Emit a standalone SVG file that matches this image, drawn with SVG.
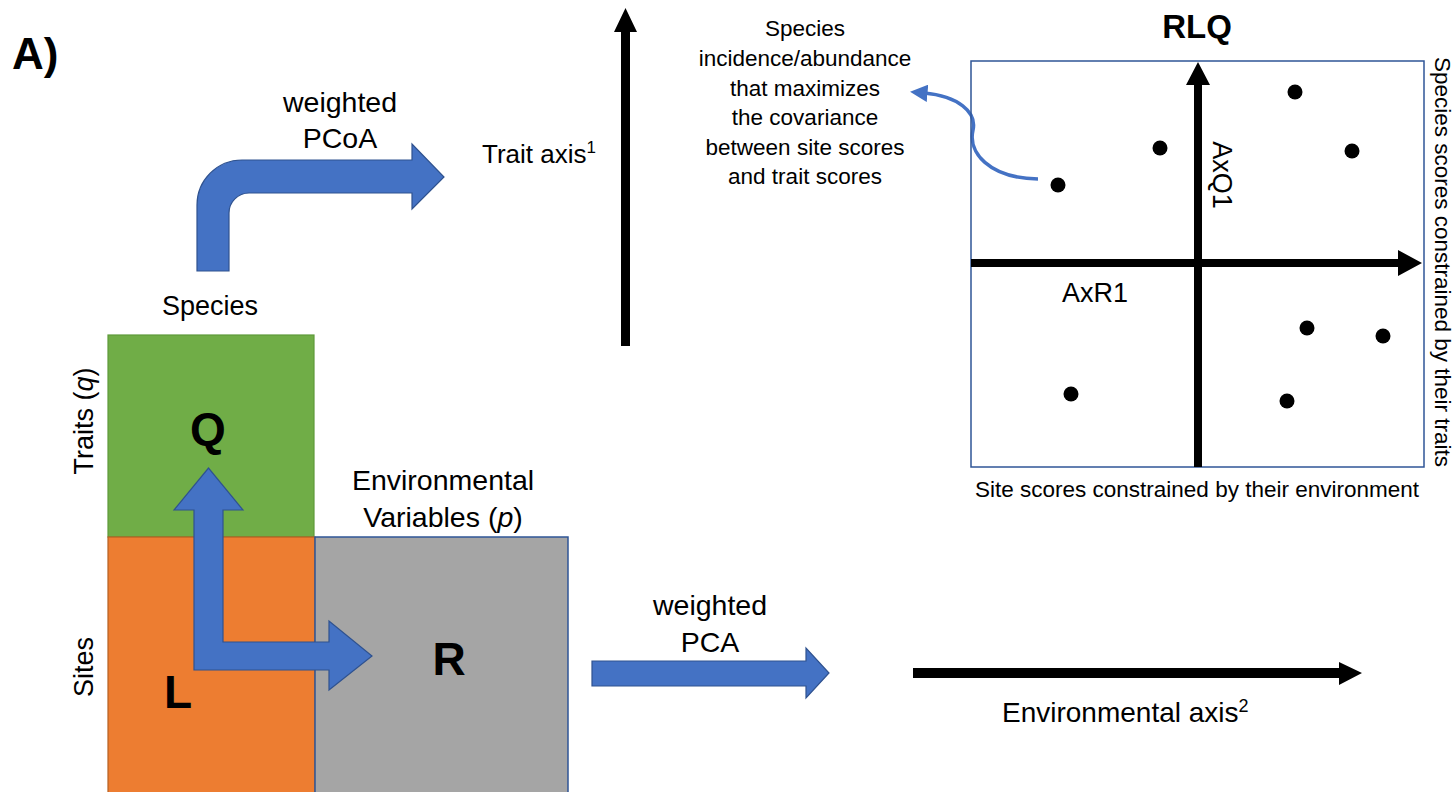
<svg xmlns="http://www.w3.org/2000/svg" width="1453" height="792" viewBox="0 0 1453 792">
  <defs>
    <marker id="curveHead" viewBox="0 0 10 10" refX="2" refY="5" markerWidth="5" markerHeight="5" orient="auto-start-reverse" markerUnits="strokeWidth">
      <path d="M0,0 L10,5 L0,10 Z" fill="#4472C4"/>
    </marker>
  </defs>
  <style>
    text { font-family: "Liberation Sans", Arial, sans-serif; fill: #000; }
    .lbl { font-size: 27px; }
    .wt { font-size: 28.5px; }
    .small { font-size: 22.5px; }
    .big { font-size: 46px; font-weight: bold; }
    .blue { fill: #4472C4; stroke: #2F528F; stroke-width: 1.2; }
    .axis { fill: #000; stroke: none; }
    .dot { fill: #000; }
  </style>

  <rect width="1453" height="792" fill="#fff"/>

  <!-- Panel letter -->
  <text x="12" y="69" style="font-size:44px;font-weight:bold">A)</text>

  <!-- Matrices -->
  <g id="matrix-Q">
    <rect x="108" y="335" width="206" height="202" fill="#70AD47" stroke="#5E9A3A" stroke-width="1.2"/>
    <text x="208" y="445" class="big" text-anchor="middle">Q</text>
  </g>
  <g id="matrix-L">
    <rect x="108" y="537" width="207" height="260" fill="#ED7D31" stroke="#B55F22" stroke-width="1.2"/>
    <text x="178" y="708" class="big" text-anchor="middle">L</text>
  </g>
  <g id="matrix-R">
    <rect x="315" y="537" width="253" height="260" fill="#A5A5A5" stroke="#2F5597" stroke-width="1.5"/>
    <text x="449" y="675" class="big" text-anchor="middle">R</text>
  </g>

  <!-- Matrix labels -->
  <g id="matrix-labels">
    <text x="210" y="315" class="lbl" text-anchor="middle">Species</text>
    <text transform="translate(93,421) rotate(-90)" class="lbl" text-anchor="middle">Traits (<tspan font-style="italic">q</tspan>)</text>
    <text transform="translate(93,667) rotate(-90)" class="lbl" text-anchor="middle">Sites</text>
    <text x="443" y="490" class="wt" text-anchor="middle">Environmental</text>
    <text x="443" y="527" class="wt" text-anchor="middle">Variables (<tspan font-style="italic">p</tspan>)</text>
  </g>

  <!-- Connectors -->
  <g id="connectors">
    <!-- bent arrow: species -> weighted PCoA -->
    <path class="blue" d="M197,271 L197,205 A45,45 0 0 1 242,160 L412,160 L412,144 L444,177 L412,209 L412,193 L249,193 A20,20 0 0 0 229,213 L229,271 Z"/>
    <!-- L-shaped arrow linking Q, L and R -->
    <path class="blue" d="M194,670 L194,510 L174,510 L208.5,468 L243,510 L223,510 L223,642 L329,642 L329,621 L372,656 L329,690 L329,670 Z"/>
    <!-- weighted PCA arrow -->
    <path class="blue" d="M592,661 L806,661 L806,648 L829,673 L806,698 L806,686 L592,686 Z"/>
    <!-- curved pointer from species point to annotation -->
    <path d="M1038,179 C 988,178 968,152 973,130 C 977,112 958,96 924,93" fill="none" stroke="#4472C4" stroke-width="3.5" marker-end="url(#curveHead)"/>
  </g>

  <!-- Ordination axes -->
  <g id="trait-axis">
    <path class="axis" d="M621,346 L621,32 L614,32 L625.5,8 L637,32 L630,32 L630,346 Z"/>
    <text x="482" y="163" style="font-size:26px">Trait axis<tspan dy="-10" font-size="17px">1</tspan></text>
  </g>
  <g id="environmental-axis">
    <path class="axis" d="M913,668 L1339,668 L1339,662 L1362,673 L1339,685 L1339,678 L913,678 Z"/>
    <text x="1002" y="722" style="font-size:28px">Environmental axis<tspan dy="-10" font-size="18px">2</tspan></text>
  </g>
  <g id="labels-pca">
    <text x="340" y="112" class="wt" text-anchor="middle">weighted</text>
    <text x="340" y="148" class="wt" text-anchor="middle">PCoA</text>
    <text x="710" y="615" class="wt" text-anchor="middle">weighted</text>
    <text x="710" y="652" class="wt" text-anchor="middle">PCA</text>
  </g>

  <!-- Annotation -->
  <g id="annotation" class="small" text-anchor="middle">
    <text x="805" y="36" class="small">Species</text>
    <text x="805" y="66" class="small">incidence/abundance</text>
    <text x="805" y="96" class="small">that maximizes</text>
    <text x="805" y="125" class="small">the covariance</text>
    <text x="805" y="155" class="small">between site scores</text>
    <text x="805" y="184" class="small">and trait scores</text>
  </g>

  <!-- RLQ ordination plot -->
  <g id="rlq-plot">
    <text x="1197" y="38" text-anchor="middle" style="font-size:33px;font-weight:bold">RLQ</text>
    <rect x="971" y="61" width="453" height="406" fill="none" stroke="#2F5597" stroke-width="1.5"/>
    <path class="axis" d="M1194,467 L1194,85 L1186,85 L1198,62 L1210,85 L1202,85 L1202,467 Z"/>
    <path class="axis" d="M971,259 L1398,259 L1398,250 L1422,263 L1398,276 L1398,267 L971,267 Z"/>
    <text transform="translate(1213,175) rotate(90)" class="lbl" text-anchor="middle">AxQ1</text>
    <text x="1062" y="302" class="lbl">AxR1</text>
    <circle class="dot" cx="1295" cy="92" r="7.5"/>
    <circle class="dot" cx="1160" cy="148" r="7.5"/>
    <circle class="dot" cx="1352" cy="151" r="7.5"/>
    <circle class="dot" cx="1058" cy="185" r="7.5"/>
    <circle class="dot" cx="1307" cy="328" r="7.5"/>
    <circle class="dot" cx="1383" cy="336" r="7.5"/>
    <circle class="dot" cx="1071" cy="394" r="7.5"/>
    <circle class="dot" cx="1287" cy="401" r="7.5"/>
    <text x="1197" y="497" class="small" text-anchor="middle">Site scores constrained by their environment</text>
    <text transform="translate(1435,262) rotate(90)" class="small" text-anchor="middle">Species scores constrained by their traits</text>
  </g>
</svg>
